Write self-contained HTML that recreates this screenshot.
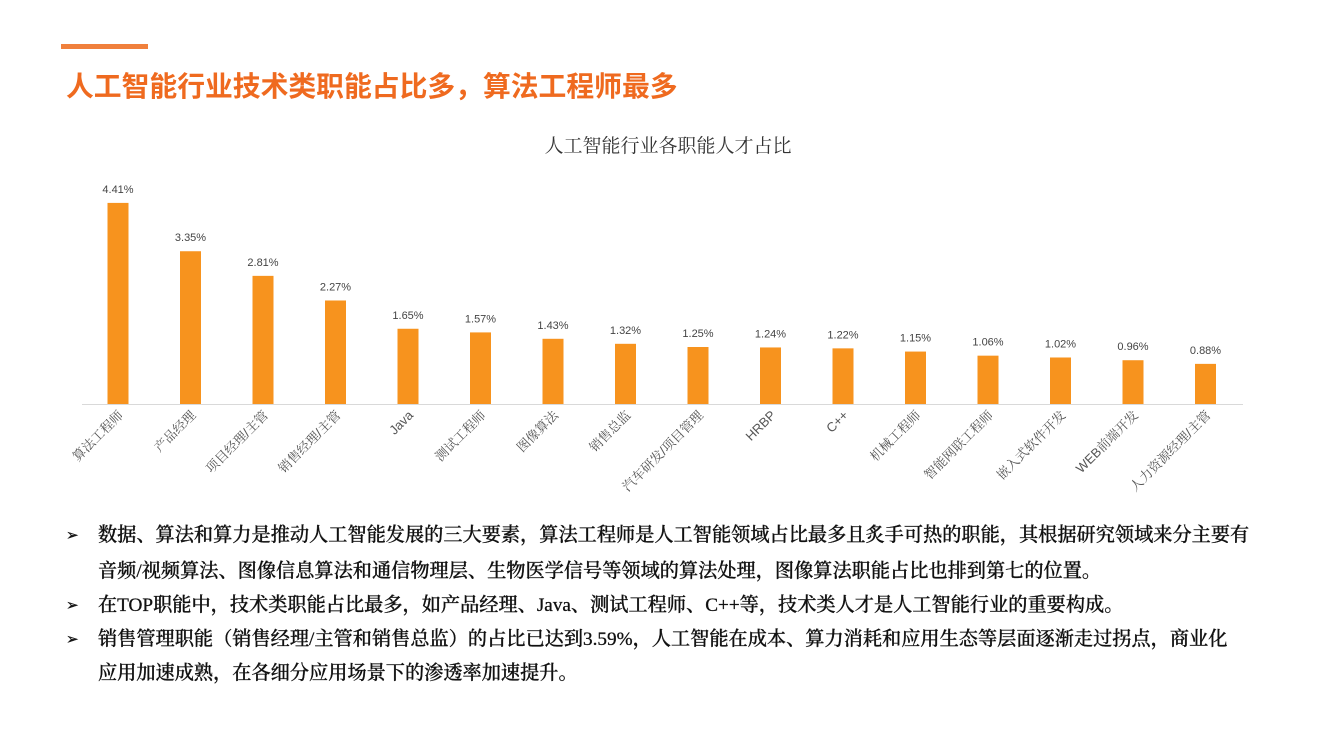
<!DOCTYPE html>
<html><head><meta charset="utf-8"><style>
body{margin:0;width:1320px;height:742px;background:#fff;position:relative;overflow:hidden;font-family:"Liberation Serif","Noto Serif CJK SC",serif}
.bar{position:absolute;left:61px;top:44px;width:87px;height:5px;background:#f0803c}
.title{position:absolute;left:66px;top:65px;font-size:27.8px;font-weight:bold;color:#ef6a1f;font-family:"Liberation Sans","Noto Sans CJK SC",sans-serif;white-space:nowrap}
.ct{position:absolute;left:0;width:1320px;top:131px;text-align:center;font-size:19px;color:#333;padding-left:8px}
.b{position:absolute;left:66px;font-size:19.2px;color:#111;line-height:22px;white-space:nowrap;font-weight:500;-webkit-text-stroke:0.3px #111}
.b span{position:absolute;left:0;font-size:15px}
</style></head><body>
<div class="bar"></div>
<div class="title">人工智能行业技术类职能占比多，算法工程师最多</div>
<div class="ct">人工智能行业各职能人才占比</div>
<svg width="1320" height="742" style="position:absolute;left:0;top:0">
<line x1="82" y1="404.5" x2="1243" y2="404.5" stroke="#d9d9d9" stroke-width="1"/>
<g id="g"></g>
</svg>
<div class="b" style="top:525px"><span>➢</span><div style="padding-left:32px">数据、算法和算力是推动人工智能发展的三大要素，算法工程师是人工智能领域占比最多且炙手可热的职能，其根据研究领域来分主要有</div></div>
<div class="b" style="top:561px"><div style="padding-left:32px">音频/视频算法、图像信息算法和通信物理层、生物医学信号等领域的算法处理，图像算法职能占比也排到第七的位置。</div></div>
<div class="b" style="top:595px"><span>➢</span><div style="padding-left:32px">在TOP职能中，技术类职能占比最多，如产品经理、Java、测试工程师、C++等，技术类人才是人工智能行业的重要构成。</div></div>
<div class="b" style="top:629px"><span>➢</span><div style="padding-left:32px">销售管理职能（销售经理/主管和销售总监）的占比已达到3.59%，人工智能在成本、算力消耗和应用生态等层面逐渐走过拐点，商业化</div></div>
<div class="b" style="top:663px"><div style="padding-left:32px">应用加速成熟，在各细分应用场景下的渗透率加速提升。</div></div>
<script>
var d=[["算法工程师",4.41],["产品经理",3.35],["项目经理/主管",2.81],["销售经理/主管",2.27],["Java",1.65],["测试工程师",1.57],["图像算法",1.43],["销售总监",1.32],["汽车研发/项目管理",1.25],["HRBP",1.24],["C++",1.22],["机械工程师",1.15],["智能网联工程师",1.06],["嵌入式软件开发",1.02],["WEB前端开发",0.96],["人力资源经理/主管",0.88]];
var s="";d.forEach(function(e,i){var cx=118+i*72.5,h=e[1]*45.6,t=404-h;
s+='<rect x="'+(cx-10.5)+'" y="'+t+'" width="21" height="'+h+'" fill="#f7931e"/>';
s+='<text x="'+cx+'" y="'+(t-10)+'" text-anchor="middle" font-size="11" fill="#444" font-family="Liberation Sans,sans-serif">'+e[1].toFixed(2)+'%</text>';
s+='<text transform="translate('+(cx+6)+',416) rotate(-45)" text-anchor="end" font-size="13" fill="#555" font-family="Liberation Sans,Noto Serif CJK SC,serif">'+e[0]+'</text>';});
document.getElementById("g").innerHTML=s;
</script>
</body></html>
